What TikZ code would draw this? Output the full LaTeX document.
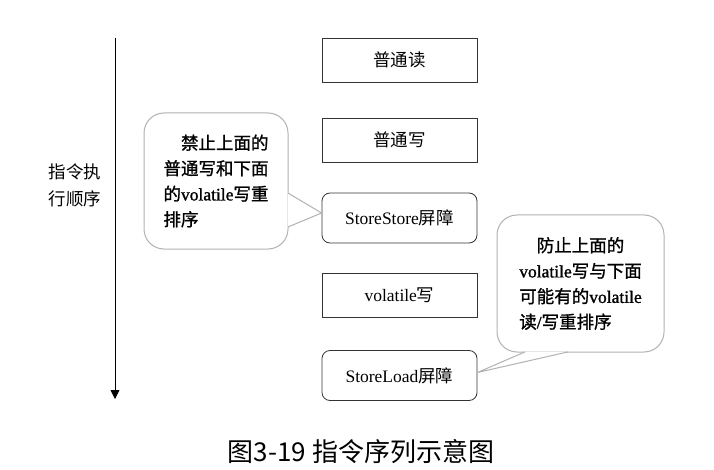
\documentclass[tikz,border=0pt]{standalone}
\usepackage{fontspec}
\setmainfont{Liberation Serif}
\newfontfamily\cjk{Noto Sans CJK SC}
\newfontfamily\cjknote{Noto Sans CJK SC}[FakeBold=1.2]
\newfontfamily\serifnote{Liberation Serif}[FakeBold=1.2]
\usetikzlibrary{arrows.meta,calc}

\begin{document}
\begin{tikzpicture}[x=1pt, y=-1pt,
    every node/.style={font=\fontsize{17.5}{25.5}\selectfont},
    op/.style={draw=black!80, line width=0.8pt, minimum width=155pt, minimum height=44pt, inner sep=0pt},
    barrier/.style={op, rounded corners=8pt, minimum height=50pt},
    note/.style={draw=black!30, line width=1pt, fill=white, rounded corners=20pt, align=left,
        font=\serifnote\fontsize{17.5}{25.5}\selectfont},
    pointer/.style={draw=black!30, line width=1pt, fill=white}]
    \useasboundingbox (0,0) rectangle (714,470);
    % execution order axis
    \coordinate (t0) at (115,38);
    \coordinate (t1) at (115,399);
    \draw[-{Triangle[length=9pt,width=9pt]}, line width=0.8pt] (t0) -- (t1);
    \node[align=center, font=\cjk\fontsize{17.5}{27}\selectfont] (order) at (75,185) {指令执\\行顺序};

    % instruction sequence
    \node[op] (r) at (399.5,60) {\cjk 普通读};
    \node[op] (w) at (399.5,140) {\cjk 普通写};
    \node[barrier] (ss) at (399.5,218) {StoreStore{\cjk 屏障}};
    \node[op] (vw) at (399.5,295.5) {volatile{\cjk 写}};
    \node[barrier] (sl) at (399.5,375.5) {StoreLoad{\cjk 屏障}};

    % notes
    \node[note, minimum width=144pt, minimum height=136pt] (n1) at (216,181)
        {\hspace*{1em}{\cjknote 禁止上面的}\\{\cjknote 普通写和下面}\\{\cjknote 的}volatile{\cjknote 写重}\\{\cjknote 排序}};
    \coordinate (n1a) at ($(n1.east)+(-0.6,12)$);
    \coordinate (n1b) at ($(n1.east)+(-0.6,46)$);
    \coordinate (n1tip) at ($(ss.west)+(0,-5)$);
    \filldraw[pointer] (n1a) -- (n1tip) -- (n1b);

    \node[note, minimum width=167pt, minimum height=137pt] (n2) at (580.5,283.5)
        {\hspace*{1em}{\cjknote 防止上面的}\\volatile{\cjknote 写与下面}\\{\cjknote 可能有的}volatile\\{\cjknote 读}/{\cjknote 写重排序}};
    \coordinate (n2a) at ($(n2.south)+(-55.5,-0.6)$);
    \coordinate (n2b) at ($(n2.south)+(-12.5,-0.6)$);
    \coordinate (n2tip) at ($(sl.east)+(0,-3)$);
    \filldraw[pointer] (n2a) -- (n2tip) -- (n2b);

    % caption
    \node[font=\cjk\fontsize{26}{30}\selectfont] (cap) at (361,452) {图3-19 指令序列示意图};
\end{tikzpicture}
\end{document}
